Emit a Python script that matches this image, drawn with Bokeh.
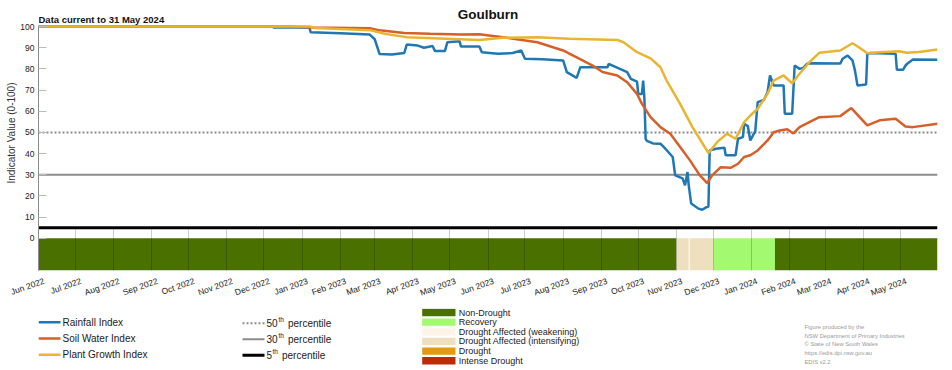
from datetime import datetime
from bokeh.plotting import figure
from bokeh.models import Range1d, FixedTicker, Span, Label, Title, ColumnDataSource, DatetimeTickFormatter
from bokeh.layouts import column
from bokeh.embed import file_html
from bokeh.resources import INLINE
from bokeh.core.properties import value

# ---------------- data ----------------
region = "Goulburn"
data_note = "Data current to 31 May 2024"
y_title = "Indicator Value (0-100)"

rain_dates = ["2022-06-01", "2022-12-08", "2022-12-09", "2023-01-07", "2023-01-08", "2023-02-01", "2023-02-25",
              "2023-03-01", "2023-03-05", "2023-03-15", "2023-03-25", "2023-03-27", "2023-04-05", "2023-04-10",
              "2023-04-17", "2023-04-19", "2023-04-27", "2023-04-29", "2023-05-09", "2023-05-10", "2023-05-25",
              "2023-05-27", "2023-06-09", "2023-06-21", "2023-06-28", "2023-07-01", "2023-07-15", "2023-08-01",
              "2023-08-04", "2023-08-12", "2023-08-15", "2023-09-06", "2023-09-07", "2023-09-22", "2023-09-25",
              "2023-09-30", "2023-10-01", "2023-10-04", "2023-10-05", "2023-10-06", "2023-10-07", "2023-10-08",
              "2023-10-13", "2023-10-19", "2023-10-23", "2023-10-29", "2023-10-31", "2023-11-06", "2023-11-08",
              "2023-11-10", "2023-11-11", "2023-11-13", "2023-11-19", "2023-11-22", "2023-11-25", "2023-11-27",
              "2023-11-28", "2023-12-03", "2023-12-10", "2023-12-11", "2023-12-19", "2023-12-21", "2023-12-25",
              "2023-12-26", "2023-12-29", "2023-12-31", "2024-01-04", "2024-01-06", "2024-01-11", "2024-01-14",
              "2024-01-16", "2024-01-19", "2024-01-27", "2024-01-28", "2024-02-03", "2024-02-05", "2024-02-09",
              "2024-02-12", "2024-02-15", "2024-02-20", "2024-03-13", "2024-03-15", "2024-03-19", "2024-03-23",
              "2024-03-25", "2024-03-27", "2024-04-03", "2024-04-04", "2024-04-07", "2024-04-27", "2024-04-28",
              "2024-05-03", "2024-05-05", "2024-05-07", "2024-05-11", "2024-05-31"]
rain_vals = [100, 100, 99.6, 99.6, 97.3, 96.8, 96.2,
             94, 87, 86.8, 87.5, 91.5, 91, 90,
             90.8, 88.4, 88.4, 92.6, 93, 90.6, 90.6,
             87.9, 87.1, 87.5, 88.7, 84.8, 84.5, 84,
             78.5, 75.8, 80.8, 80.8, 82.4, 78.5, 75.3,
             74, 68.2, 68.2, 74.5, 66, 47, 46,
             44.8, 44.7, 42.3, 38.4, 29.7, 28.3, 25,
             31.3, 25, 16.4, 14, 13.5, 14.6, 15,
             41.5, 42.3, 42.8, 39.2, 39.2, 47, 47.8,
             54.1, 53, 46.2, 50.6, 64.3, 65.3, 69,
             76.9, 72.2, 72.2, 58.8, 58.8, 81.6, 80,
             80.5, 82.4, 82.7, 82.5, 84.8, 86.3, 84,
             79.2, 72.2, 72.6, 87.1, 87.5, 87.1, 79.6,
             79.6, 81.6, 82.7, 84.4, 84.3]

soil_dates = ["2022-06-01", "2022-12-20", "2023-01-10", "2023-02-25", "2023-03-05", "2023-03-25", "2023-04-15",
              "2023-05-10", "2023-05-25", "2023-06-13", "2023-07-11", "2023-08-01", "2023-08-14", "2023-08-25",
              "2023-09-02", "2023-09-14", "2023-09-22", "2023-09-30", "2023-10-04", "2023-10-11", "2023-10-19",
              "2023-10-27", "2023-11-04", "2023-11-12", "2023-11-20", "2023-11-26", "2023-11-30", "2023-12-07",
              "2023-12-15", "2023-12-21", "2023-12-26", "2023-12-31", "2024-01-06", "2024-01-14", "2024-01-19",
              "2024-01-24", "2024-01-30", "2024-02-04", "2024-02-09", "2024-02-25", "2024-03-13", "2024-03-22",
              "2024-04-04", "2024-04-14", "2024-04-27", "2024-05-05", "2024-05-11", "2024-05-31"]
soil_vals = [100, 100, 99.6, 99.2, 98.2, 96.9, 96.6,
             96.3, 96.4, 95, 92.6, 88.7, 84.8, 81.6,
             78.5, 76.9, 73.7, 68.2, 63.5, 57.2, 52.5,
             49.4, 43.1, 36.8, 29.7, 26.1, 29.7, 33.6,
             33.3, 35.2, 38.4, 39.2, 41.5, 46.2, 50.1,
             50.9, 51.5, 49.5, 52.5, 57.2, 57.7, 61.5,
             53.3, 55.7, 56.5, 52.8, 52.5, 54.1]

plant_dates = ["2022-06-01", "2023-01-07", "2023-01-12", "2023-02-25", "2023-03-10", "2023-03-27", "2023-05-25",
               "2023-06-13", "2023-07-11", "2023-08-06", "2023-09-14", "2023-09-19", "2023-09-30", "2023-10-11",
               "2023-10-19", "2023-10-24", "2023-10-27", "2023-11-04", "2023-11-14", "2023-11-27", "2023-12-04",
               "2023-12-12", "2023-12-19", "2023-12-26", "2023-12-31", "2024-01-06", "2024-01-14", "2024-01-19",
               "2024-01-27", "2024-02-03", "2024-02-09", "2024-02-17", "2024-02-25", "2024-03-13", "2024-03-23",
               "2024-03-29", "2024-04-04", "2024-04-14", "2024-04-30", "2024-05-06", "2024-05-16", "2024-05-31"]
plant_vals = [100, 100, 99.3, 98.3, 96.5, 95, 93.7,
              94.7, 95, 94.2, 93.7, 92.6, 87.9, 85,
              80.8, 74.5, 71.5, 63.5, 52.5, 40.3, 45.4,
              49.4, 47, 54.9, 58, 61.2, 68.2, 74.5,
              76.9, 73.2, 77.7, 83.2, 87.6, 88.7, 92.1,
              89.9, 87.4, 87.9, 88.3, 87.6, 88, 89.2]

series_names = ["Rainfall Index", "Soil Water Index", "Plant Growth Index"]
series_colors = ["#1F77B4", "#D65F2A", "#E9B430"]

percentile_values = [50, 30, 5]
percentile_labels = ["50", "30", "5"]

band_start = ["2022-06-01", "2023-11-01", "2023-11-11", "2023-11-12", "2023-12-01", "2024-01-20"]
band_end = ["2023-11-01", "2023-11-11", "2023-11-12", "2023-12-01", "2024-01-20", "2024-05-31"]
band_cat = ["Non-Drought", "Drought Affected (intensifying)", "Drought Affected (weakening)",
            "Drought Affected (intensifying)", "Recovery", "Non-Drought"]

categories = ["Non-Drought", "Recovery", "Drought Affected (weakening)",
              "Drought Affected (intensifying)", "Drought", "Intense Drought"]
category_colors = ["#4A7000", "#A3FA70", "#FDF4E7", "#EEE0BF", "#E39A12", "#BD2B06"]

month_ticks = ["2022-06-01", "2022-07-01", "2022-08-01", "2022-09-01", "2022-10-01", "2022-11-01",
               "2022-12-01", "2023-01-01", "2023-02-01", "2023-03-01", "2023-04-01", "2023-05-01",
               "2023-06-01", "2023-07-01", "2023-08-01", "2023-09-01", "2023-10-01", "2023-11-01",
               "2023-12-01", "2024-01-01", "2024-02-01", "2024-03-01", "2024-04-01", "2024-05-01"]
month_labels = ["Jun 2022", "Jul 2022", "Aug 2022", "Sep 2022", "Oct 2022", "Nov 2022", "Dec 2022",
                "Jan 2023", "Feb 2023", "Mar 2023", "Apr 2023", "May 2023", "Jun 2023", "Jul 2023",
                "Aug 2023", "Sep 2023", "Oct 2023", "Nov 2023", "Dec 2023", "Jan 2024", "Feb 2024",
                "Mar 2024", "Apr 2024", "May 2024"]
y_ticks = [0, 10, 20, 30, 40, 50, 60, 70, 80, 90, 100]

footnote = ["Figure produced by the", "NSW Department of Primary Industries", "\u00a9 State of New South Wales",
            "https://edis.dpi.nsw.gov.au", "EDIS v2.2"]

# ---------------- helpers ----------------
EPOCH = datetime(1970, 1, 1)
DAY_MS = 86400000


def d(s):
    return datetime.strptime(s, "%Y-%m-%d")


def ms(s):
    return int((d(s) - EPOCH).total_seconds() * 1000)


FONT = "Liberation Sans"
TXT = "#1A1A1A"
Y_MIN, Y_TOP, AXIS_TOP = -15.2, 112.3, 100.6
LEFT, RIGHT = 38, 15
MAIN_H, BOTTOM = 308, 38
LABEL_NUDGE_MS = int(4.5 * DAY_MS)  # month labels sit slightly right of the month boundary

# ---------------- main chart (frame spans the header area too) ----------------
p = figure(width=952, height=MAIN_H, x_axis_type="datetime", output_backend="svg", toolbar_location=None,
           x_range=Range1d(d("2022-06-01"), d("2024-05-31")), y_range=Range1d(Y_MIN, Y_TOP),
           min_border_left=LEFT, min_border_right=RIGHT, min_border_top=0, min_border_bottom=BOTTOM,
           title=None)
p.outline_line_color = None

cat_color = dict(zip(categories, category_colors))
band_src = ColumnDataSource(dict(left=[d(s) for s in band_start], right=[d(s) for s in band_end],
                                 color=[cat_color[c] for c in band_cat]))
p.quad(left="left", right="right", bottom=Y_MIN, top=0, fill_color="color", line_color=None, source=band_src)

pct_styles = [dict(line_color="#8C8C8C", line_width=2, line_dash="2 2"),
              dict(line_color="#8C8C8C", line_width=2),
              dict(line_color="#000000", line_width=3)]
for v, st in zip(percentile_values, pct_styles):
    p.add_layout(Span(location=v, dimension="width", level="underlay", **st))

for dates, vals, col in zip([rain_dates, soil_dates, plant_dates], [rain_vals, soil_vals, plant_vals],
                            series_colors):
    p.line(x=[d(s) for s in dates], y=vals, line_color=col, line_width=2.5)

month_ms = [ms(s) for s in month_ticks]
label_ms = [m + LABEL_NUDGE_MS for m in month_ms]
p.xaxis.ticker = FixedTicker(ticks=label_ms)
p.xaxis.formatter = DatetimeTickFormatter(days="%b %Y", months="%b %Y", years="%b %Y")
p.xaxis.major_label_overrides = dict(zip(label_ms, month_labels))
p.xaxis.major_label_orientation = 0.34
p.xaxis.major_tick_in = 0
p.xaxis.major_tick_out = 0
p.xaxis.minor_tick_line_color = None
p.xaxis.axis_line_color = None
p.xaxis.major_label_standoff = 10
p.xaxis.major_label_text_font = FONT
p.xaxis.major_label_text_font_size = "8.5px"
p.xaxis.major_label_text_color = TXT

p.xgrid.ticker = FixedTicker(ticks=month_ms)
p.xgrid.cross_bounds = (Y_MIN, 5)
p.xgrid.grid_line_color = "#000000"
p.xgrid.grid_line_alpha = 0.2
p.xgrid.level = "annotation"
p.ygrid.visible = False

p.yaxis.ticker = FixedTicker(ticks=y_ticks)
p.yaxis.bounds = (Y_MIN, AXIS_TOP)
p.yaxis.major_tick_in = 8
p.yaxis.major_tick_out = 0
p.yaxis.major_tick_line_color = "#BBBBBB"
p.yaxis.minor_tick_line_color = None
p.yaxis.axis_line_color = "#8A8A8A"
p.yaxis.major_label_standoff = 4
p.yaxis.major_label_text_font = FONT
p.yaxis.major_label_text_font_size = "8.5px"
p.yaxis.major_label_text_color = TXT

p.add_layout(Title(text=y_title, align="right", offset=82, standoff=2, text_font=FONT,
                   text_font_size="10px", text_font_style="normal", text_color="#333333"), "left")

# header texts inside the frame (screen units from frame bottom-left)
p.add_layout(Label(x=449.5, y=256.5, x_units="screen", y_units="screen", text=region, text_align="center",
                   text_baseline="middle", text_font=FONT, text_font_size="13.5px", text_font_style="bold",
                   text_color="#111111"))
p.add_layout(Label(x=0, y=251, x_units="screen", y_units="screen", text=data_note, text_align="left",
                   text_baseline="middle", text_font=FONT, text_font_size="9.5px", text_font_style="bold",
                   text_color="#111111"))

# ---------------- legend strip (coordinates = page pixels) ----------------
lg = figure(width=952, height=370 - MAIN_H, output_backend="svg", toolbar_location=None,
            x_range=Range1d(LEFT, 952 - RIGHT), y_range=Range1d(370, MAIN_H),
            min_border_left=LEFT, min_border_right=RIGHT, min_border_top=0, min_border_bottom=0,
            x_axis_location=None, y_axis_location=None, title=None)
lg.outline_line_color = None
lg.grid.visible = False

F = value(FONT)
row_y = [321.7, 338, 354.3]
for name, col, yy in zip(series_names, series_colors, row_y):
    lg.line(x=[38, 60], y=[yy, yy], line_color=col, line_width=2.5)
    lg.text(x=[62], y=[yy], text=[name], text_font=F, text_font_size="10px", text_baseline="middle",
            text_color=TXT)

th_x = [278, 278, 272]
pc_x = [287.5, 287.5, 281.5]
for lab, st, yy, tx, px in zip(percentile_labels, pct_styles, [322.7, 338.7, 354.7], th_x, pc_x):
    lg.line(x=[242, 264], y=[yy, yy], **st)
    lg.text(x=[266], y=[yy], text=[lab], text_font=F, text_font_size="10px", text_baseline="middle",
            text_color=TXT)
    lg.text(x=[tx], y=[yy - 3.5], text=["th"], text_font=F, text_font_size="6.5px", text_baseline="middle",
            text_color=TXT)
    lg.text(x=[px], y=[yy], text=["percentile"], text_font=F, text_font_size="10px",
            text_baseline="middle", text_color=TXT)

cy = [312 + 9.65 * i for i in range(len(categories))]
lg.quad(left=[421.7] * len(categories), right=[455] * len(categories), top=[c - 3.65 for c in cy],
        bottom=[c + 3.65 for c in cy], fill_color=category_colors, line_color=None)
lg.text(x=[458.3] * len(categories), y=cy, text=categories, text_font=F, text_font_size="9px",
        text_baseline="middle", text_color=TXT)

fy = [326.7 + 8.6 * i for i in range(len(footnote))]
lg.text(x=[804] * len(footnote), y=fy, text=footnote, text_font=F, text_font_size="5.8px",
        text_baseline="middle", text_color="#9A9A9A")

layout = column(p, lg, spacing=0)
open("out.html", "w").write(file_html(layout, INLINE))
